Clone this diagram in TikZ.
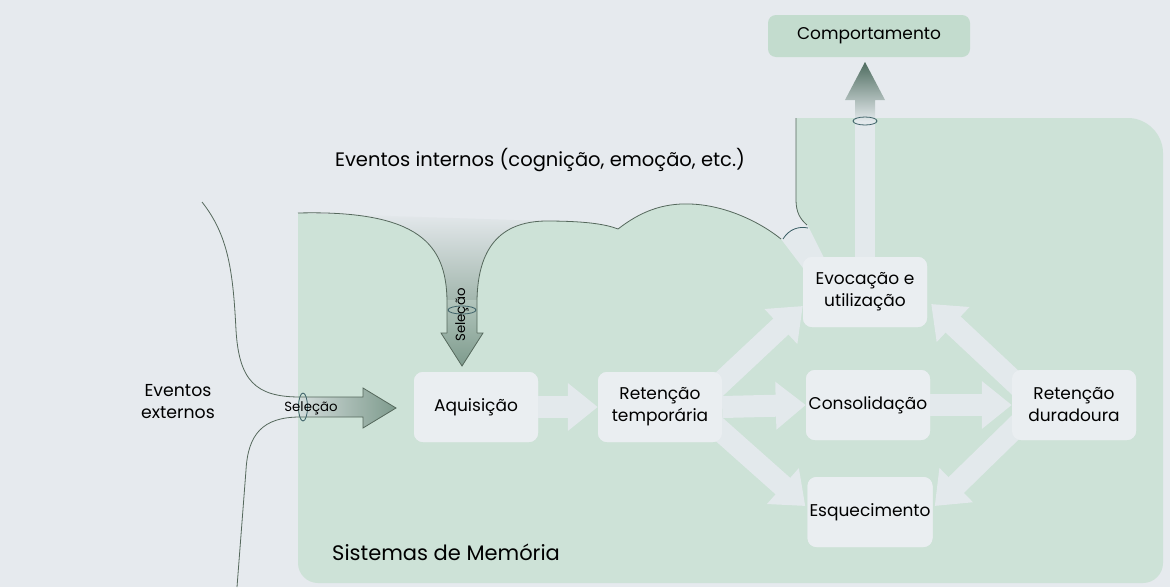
\documentclass[tikz,border=0pt]{standalone}
\usepackage{fontspec}
\setmainfont{Poppins}
\usetikzlibrary{arrows.meta,calc}
\definecolor{paper}{HTML}{E6EAEE}
\definecolor{memgreen}{HTML}{CDE2D7}
\definecolor{boxcol}{HTML}{EAEEF1}
\definecolor{arrcol}{HTML}{E3E9EC}
\definecolor{linecol}{HTML}{55685C}
\definecolor{compgreen}{HTML}{C3DCCE}
\definecolor{headdark}{HTML}{7E9B8D}
\definecolor{headlight}{HTML}{B2C5BC}
\definecolor{updark}{HTML}{4E6C5F}
\definecolor{ringcol}{HTML}{3B5F66}
\definecolor{funneldark}{HTML}{A3B7AE}
\newcommand\dgboxfont{\fontsize{17}{22}\selectfont}
\newcommand\dgsmallfont{\fontsize{13.3}{15}\selectfont}
\begin{document}
\begin{tikzpicture}[x=1pt,y=-1pt,
  membox/.style={fill=boxcol, rounded corners=9pt, minimum width=124pt, minimum height=70pt, align=center, inner sep=2pt, font=\dgboxfont},
  compbox/.style={fill=compgreen, rounded corners=8pt, minimum width=202pt, minimum height=42pt, inner sep=2pt, font=\dgboxfont},
  bigarrow/.style={draw=arrcol, line width=22pt, -{Triangle[length=30pt,width=46pt]}},
  outline/.style={draw=linecol, line width=0.8pt},
  ringline/.style={draw=ringcol, line width=0.8pt},
  lbl/.style={align=center, inner sep=0pt, font=\dgboxfont}]
% background
\fill[paper] (0,0) rectangle (1170,587);
\useasboundingbox (0,0) rectangle (1170,587);
% memory region
\fill[memgreen] (298,213) .. controls (420,210) and (446,245) .. (447,300) -- (447,333) -- (477,333) -- (477,300)
  .. controls (478,248) and (500,222) .. (545,221) .. controls (585,221) and (605,224) .. (618,229)
  .. controls (640,212) and (662,203) .. (690,204) .. controls (725,205) and (760,222) .. (781,239)
  -- (807,225) .. controls (800,219) and (796,212) .. (796,200) -- (796,118) -- (1128,118)
  .. controls (1147,118) and (1163,134) .. (1163,153) -- (1163,563)
  .. controls (1163,574) and (1154,583) .. (1143,583) -- (318,583)
  .. controls (307,583) and (298,574) .. (298,563) -- cycle;
% funnel interior
\shade[top color=paper, bottom color=funneldark] (298,213) .. controls (420,210) and (446,245) .. (447,300)
  -- (477,300) .. controls (478,248) and (500,222) .. (545,221) -- cycle;
% downward selection arrow
\shade[top color=headlight, bottom color=headdark] (447,300) -- (447,333) -- (441,333) -- (462,366) -- (483,333) -- (477,333) -- (477,300) -- cycle;
\draw[outline] (447,333) -- (441,333) -- (462,366) -- (483,333) -- (477,333);
% band from internal events to Evocacao
\fill[arrcol] (781,239) -- (807,224) -- (824,258) -- (803,268) -- cycle;
% nodes
\node[membox] (aq) at (476,407) {Aquisição};
\node[membox] (rt) at (660,407) {Retenção\\temporária};
\node[membox] (co) at (868,405) {Consolidação};
\node[membox] (es) at (870,512) {Esquecimento};
\node[membox] (rd) at (1074,405) {Retenção\\duradoura};
\node[membox] (ev) at (865,292) {Evocação e\\utilização};
\node[compbox] (comp) at (869,36) {Comportamento};
\coordinate (ringc) at (865,121);
% arrows
\draw[bigarrow] (aq.east) -- (rt.west);
\draw[bigarrow] (rt.east) -- (co.west);
\draw[bigarrow] (co.east) -- (rd.west);
\draw[bigarrow] ($(rt.east)+(-8,-18)$) -- ($(ev.west)+(0,14)$);
\draw[bigarrow] ($(rt.east)+(-8,18)$) -- ($(es.west)+(-2,-6)$);
\draw[bigarrow] ($(rd.west)+(8,-18)$) -- ($(ev.east)+(4,12)$);
\draw[bigarrow] ($(rd.west)+(8,18)$) -- ($(es.east)+(2,-6)$);
% redraw boxes on top
\node[membox] at (aq) {Aquisição};
\node[membox] at (rt) {Retenção\\temporária};
\node[membox] at (co) {Consolidação};
\node[membox] at (es) {Esquecimento};
\node[membox] at (rd) {Retenção\\duradoura};
\node[membox] at (ev) {Evocação e\\utilização};
% vertical shaft to behaviour
\draw[arrcol, line width=20pt] (ev.north) -- (ev.north |- ringc);
\shade[top color=updark, bottom color=arrcol] (855,121) -- (855,100) -- (845,100) -- (865,62) -- (885,100) -- (875,100) -- (875,121) -- cycle;
\draw[ringline] (ringc) ellipse [x radius=12, y radius=4];
% outlines of internal events
\draw[outline] (298,213) .. controls (420,210) and (446,245) .. (447,300) -- (447,333);
\draw[outline] (477,333) -- (477,300)
  .. controls (478,248) and (500,222) .. (545,221) .. controls (585,221) and (605,224) .. (618,229)
  .. controls (640,212) and (662,203) .. (690,204) .. controls (725,205) and (760,222) .. (781,239);
\draw[outline] (796,118) -- (796,200) .. controls (796,212) and (800,219) .. (807,225);
\draw[ringline] (783,239) .. controls (789,229) and (799,226) .. (808,228);
\draw[ringline] (462,310) ellipse [x radius=14, y radius=4];
% external events arrow
\shade[left color=headlight!40!paper, right color=headdark] (300,397) -- (363,397) -- (363,388) -- (396,408) -- (363,428) -- (363,417) -- (300,417) -- cycle;
\draw[outline] (202,202) .. controls (228,235) and (233,270) .. (236,330) .. controls (239,380) and (255,397) .. (300,397) -- (363,397) -- (363,388) -- (396,408) -- (363,428) -- (363,417) -- (300,417) .. controls (262,417) and (248,435) .. (246,470) -- (237,587);
\draw[ringline] (303,407) ellipse [x radius=4.5, y radius=14];
% labels
\node[inner sep=0pt, font=\dgsmallfont] (sel1) at (311,408) {Seleção};
\node[inner sep=0pt, font=\dgsmallfont, rotate=90] (sel2) at (462,315) {Seleção};
\node[lbl, font=\fontsize{17.3}{22}\selectfont] (ext) at (178,402) {Eventos\\externos};
\node[lbl, font=\fontsize{19.5}{22}\selectfont] (int) at (540,160) {Eventos internos (cognição, emoção, etc.)};
\node[lbl, anchor=west, font=\fontsize{21}{24}\selectfont] (mem) at (332,552) {Sistemas de Memória};
\end{tikzpicture}
\end{document}
